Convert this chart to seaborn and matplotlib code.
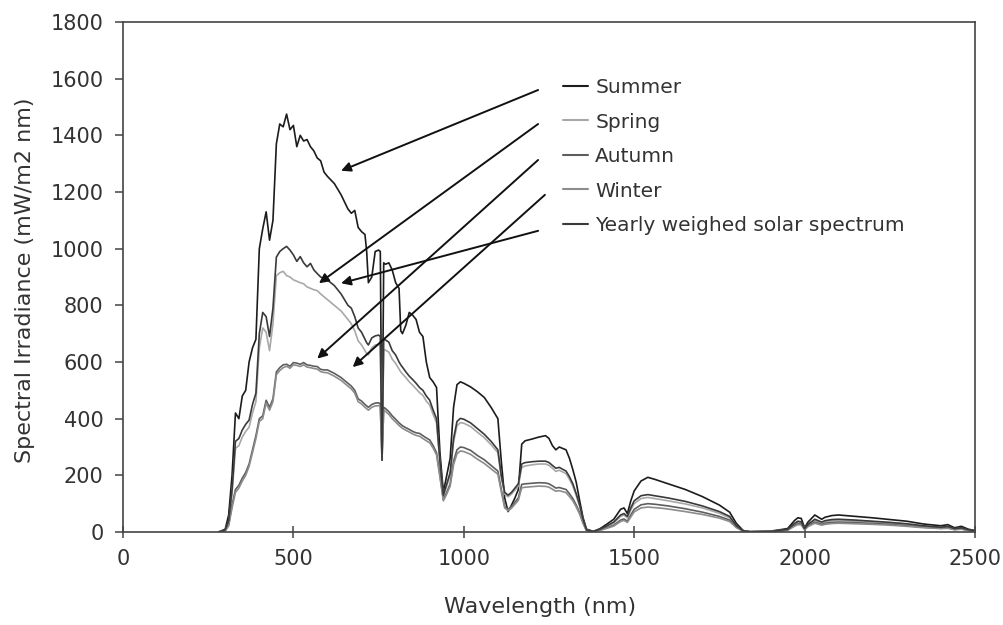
import matplotlib
matplotlib.use("Agg")
import matplotlib.pyplot as plt
import seaborn as sns
import pandas as pd

# ---------------- data ----------------
wavelength = [280, 290, 300, 310, 320, 330, 340, 350, 360, 370, 380, 390, 400, 410, 420, 430, 440,
              450, 460, 470, 480, 490, 500, 510, 520, 530, 540, 550, 560, 570, 580, 590, 600, 620,
              640, 660, 670, 680, 690, 700, 710, 715, 720, 730, 740, 750, 755, 760, 765, 770, 780,
              790, 800, 810, 815, 820, 830, 840, 850, 860, 870, 880, 890, 900, 910, 920, 930, 940,
              950, 960, 970, 980, 990, 1000, 1020, 1040, 1060, 1080, 1100, 1110, 1120, 1130, 1140,
              1150, 1160, 1170, 1180, 1200, 1220, 1240, 1250, 1260, 1270, 1280, 1300, 1310, 1320,
              1330, 1340, 1350, 1360, 1380, 1400, 1420, 1440, 1460, 1470, 1480, 1490, 1500, 1520,
              1540, 1560, 1580, 1600, 1650, 1700, 1750, 1780, 1800, 1820, 1840, 1900, 1950, 1970,
              1980, 1990, 2000, 2010, 2030, 2050, 2060, 2080, 2100, 2150, 2200, 2250, 2300, 2350,
              2400, 2420, 2440, 2460, 2480, 2500]

summer = [0, 5, 10, 60, 200, 420, 400, 480, 500, 600, 650, 680, 1000, 1070, 1130, 1030, 1100,
          1370, 1440, 1430, 1475, 1420, 1435, 1360, 1400, 1380, 1385, 1360, 1345, 1320, 1310, 1270, 1255, 1230,
          1190, 1140, 1125, 1135, 1075, 1060, 1050, 990, 880, 900, 990, 995, 990, 254, 950, 945, 950,
          925, 880, 860, 710, 700, 730, 775, 765, 750, 705, 690, 600, 545, 530, 510, 280, 140,
          200, 260, 440, 520, 530, 525, 512, 495, 475, 440, 400, 250, 120, 72, 95,
          120, 150, 310, 322, 328, 335, 340, 330, 305, 290, 300, 290, 260, 220,
          175, 110, 50, 10, 2, 12, 28, 45, 80, 85, 65, 110, 145, 180,
          193, 186, 178, 170, 150, 125, 95, 70, 30, 5, 1, 3, 12, 40,
          50, 48, 15, 35, 60, 45, 52, 58, 60, 55, 50, 44, 38, 28,
          22, 26, 15, 20, 10, 5]

spring = [0, 3, 7, 35, 135, 295, 305, 335, 355, 370, 420, 460, 650, 720, 705, 640, 735,
          905, 915, 920, 905, 900, 890, 885, 880, 876, 865, 860, 855, 852, 840, 830, 820, 800,
          780, 750, 735, 710, 675, 660, 640, 630, 625, 650, 660, 662, 655, 254, 645, 642, 635,
          610, 595, 575, 565, 558, 545, 530, 518, 505, 492, 482, 462, 448, 415, 385, 240, 125,
          162, 200, 318, 375, 386, 384, 372, 352, 333, 308, 280, 192, 134, 124, 134,
          148, 162, 228, 233, 237, 240, 240, 235, 225, 214, 218, 206, 186, 162,
          128, 90, 42, 7, 2, 9, 20, 32, 55, 60, 50, 78, 100, 118,
          122, 118, 114, 110, 99, 85, 66, 50, 20, 4, 1, 2, 8, 27,
          34, 33, 11, 25, 41, 32, 36, 40, 41, 38, 35, 31, 26, 20,
          15, 18, 11, 13, 7, 3]

autumn = [0, 2, 5, 25, 95, 150, 165, 190, 210, 240, 290, 340, 400, 410, 465, 440, 470,
          565, 580, 590, 592, 585, 598, 596, 592, 598, 590, 588, 585, 584, 574, 572, 572, 560,
          545, 525, 515, 500, 470, 462, 450, 445, 440, 450, 455, 456, 452, 254, 440, 436, 425,
          410, 398, 385, 380, 375, 368, 362, 355, 350, 348, 340, 332, 325, 305, 280, 200, 115,
          140, 170, 250, 290, 300, 298, 288, 270, 255, 235, 215, 150, 90, 80, 90,
          105, 120, 168, 170, 172, 174, 173, 170, 163, 155, 157, 150, 135, 118,
          95, 68, 32, 5, 1, 7, 15, 24, 42, 46, 38, 60, 80, 96,
          100, 98, 95, 92, 82, 70, 55, 42, 17, 3, 1, 2, 7, 23,
          29, 28, 9, 21, 35, 27, 31, 34, 35, 33, 30, 27, 22, 17,
          13, 15, 9, 11, 6, 3]

winter = [0, 2, 4, 22, 85, 140, 155, 180, 200, 232, 280, 330, 390, 400, 455, 430, 460,
          555, 570, 580, 585, 578, 590, 588, 584, 590, 582, 580, 577, 575, 566, 563, 562, 550,
          535, 515, 505, 490, 460, 452, 440, 435, 430, 440, 445, 446, 442, 254, 430, 426, 415,
          400, 388, 376, 371, 366, 359, 353, 346, 341, 338, 330, 322, 315, 296, 272, 194, 110,
          134, 162, 238, 276, 286, 284, 274, 257, 242, 223, 204, 142, 85, 75, 84,
          98, 112, 156, 158, 160, 162, 161, 158, 151, 144, 146, 139, 125, 110,
          88, 63, 30, 5, 1, 6, 13, 21, 37, 41, 34, 53, 71, 85,
          88, 86, 84, 81, 72, 62, 49, 37, 15, 3, 1, 2, 6, 20,
          26, 25, 8, 19, 31, 24, 27, 30, 31, 29, 27, 24, 20, 15,
          12, 13, 8, 10, 5, 2]

yearly = [0, 3, 8, 40, 150, 320, 330, 360, 380, 395, 450, 490, 700, 775, 760, 690, 790,
          970, 990, 1000, 1008, 995, 978, 955, 972, 950, 936, 948, 925, 912, 900, 895, 889, 870,
          840, 800, 790, 760, 720, 705, 680, 668, 660, 685, 692, 695, 690, 254, 680, 678, 670,
          640, 625, 600, 590, 582, 565, 550, 538, 525, 510, 500, 480, 465, 430, 400, 250, 130,
          170, 210, 330, 390, 401, 398, 385, 365, 345, 320, 290, 200, 140, 130, 140,
          155, 170, 240, 245, 248, 250, 250, 245, 235, 225, 228, 215, 195, 170,
          135, 95, 45, 8, 2, 10, 22, 35, 60, 65, 55, 85, 110, 128,
          132, 128, 124, 120, 108, 92, 72, 55, 22, 4, 1, 2, 9, 30,
          38, 36, 12, 27, 45, 35, 40, 44, 45, 42, 38, 34, 29, 22,
          17, 20, 12, 15, 8, 4]

series_names = ["Summer", "Spring", "Autumn", "Winter", "Yearly weighed solar spectrum"]
series_values = [summer, spring, autumn, winter, yearly]
series_colors = ["#1c1c1c", "#a8a8a8", "#5e5e5e", "#8c8c8c", "#3a3a3a"]

x_ticks = [0, 500, 1000, 1500, 2000, 2500]
y_ticks = [0, 200, 400, 600, 800, 1000, 1200, 1400, 1600, 1800]

# arrow annotation targets (data coords) and starts (data coords)
arrow_tip_x = [640, 575, 570, 674, 640]
arrow_tip_y = [1275, 878, 612, 582, 878]
arrow_start_x = [1218, 1218, 1218, 1238, 1218]
arrow_start_y = [1560, 1440, 1313, 1190, 1063]

# ---------------- build frame ----------------
frames = []
for name, vals in zip(series_names, series_values):
    assert len(vals) == len(wavelength), (name, len(vals), len(wavelength))
    frames.append(pd.DataFrame({"Wavelength": wavelength, "Irradiance": vals, "Season": name}))
df = pd.concat(frames, ignore_index=True)

# ---------------- plot ----------------
sns.set_theme(style="white")
plt.rcParams["font.family"] = ["DejaVu Sans"]
text_color = "#333333"

fig = plt.figure(figsize=(10.04, 6.25), dpi=100)
ax = fig.add_axes([123 / 1004, 1 - 532 / 625, 852 / 1004, 510 / 625])

sns.lineplot(data=df, x="Wavelength", y="Irradiance", hue="Season",
             hue_order=series_names, palette=dict(zip(series_names, series_colors)),
             estimator=None, sort=False, linewidth=1.2, ax=ax)

ax.set_xlim(0, 2500)
ax.set_ylim(0, 1800)
ax.set_xticks(x_ticks)
ax.set_yticks(y_ticks)
ax.tick_params(axis="x", direction="inout", length=9, width=1.1, colors="#444444",
               labelcolor=text_color, labelsize=15, pad=8)
ax.tick_params(axis="y", direction="out", length=6, width=1.1, colors="#444444",
               labelcolor=text_color, labelsize=15, pad=8)
ax.tick_params(bottom=True, left=True)

for sp in ax.spines.values():
    sp.set_visible(True)
    sp.set_color("#444444")
    sp.set_linewidth(1.2)

ax.set_xlabel("Wavelength (nm)", fontsize=16, color=text_color)
ax.set_ylabel("Spectral Irradiance (mW/m2 nm)", fontsize=16, color=text_color)
ax.xaxis.set_label_coords((540 - 123) / 852, (532 - 607) / 510)
ax.xaxis.label.set_va("center")
ax.yaxis.set_label_coords((25 - 123) / 852, (532 - 280) / 510)
ax.yaxis.label.set_va("center")

handles, labels = ax.get_legend_handles_labels()
ax.get_legend().remove()
leg = ax.legend(handles, labels, loc="upper left",
                bbox_to_anchor=(563 / 1004, 1 - 78 / 625), bbox_transform=fig.transFigure,
                frameon=False, fontsize=14.5, handlelength=1.25, handletextpad=0.35,
                labelspacing=0.77, borderpad=0, borderaxespad=0)
for t in leg.get_texts():
    t.set_color(text_color)
for ln in leg.get_lines():
    ln.set_linewidth(1.5)

for tx, ty, sx, sy in zip(arrow_tip_x, arrow_tip_y, arrow_start_x, arrow_start_y):
    ax.annotate("", xy=(tx, ty), xytext=(sx, sy),
                arrowprops=dict(arrowstyle="-|>", color="#111111", lw=1.4,
                                mutation_scale=14, shrinkA=0, shrinkB=0))

fig.savefig("out.png", dpi=100)
